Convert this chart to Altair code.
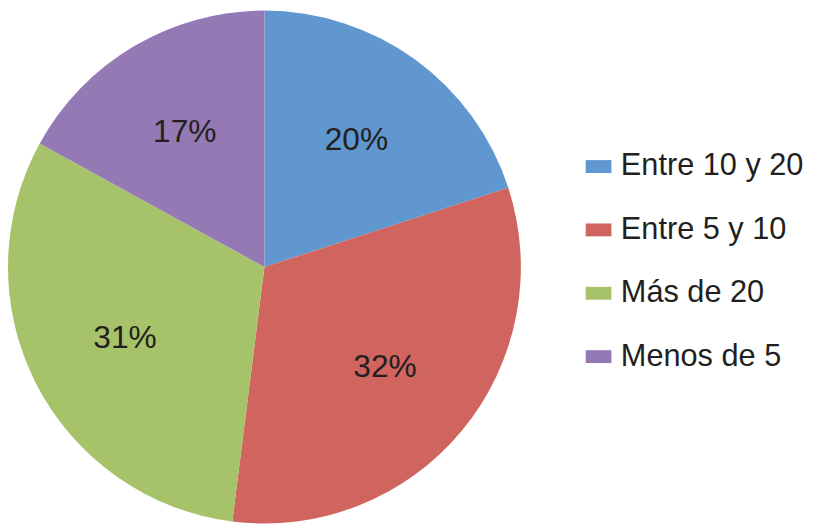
import altair as alt
import pandas as pd

categories = ["Entre 10 y 20", "Entre 5 y 10", "Más de 20", "Menos de 5"]
values = [20, 32, 31, 17]
labels = ["20%", "32%", "31%", "17%"]
colors = ["#5F97CE", "#D0645F", "#A6C36A", "#9479B5"]

df = pd.DataFrame({"cat": categories, "val": values, "label": labels, "idx": list(range(len(categories)))})

FONT = "Liberation Sans"

base = alt.Chart(df).encode(
    theta=alt.Theta("val:Q", stack=True),
    order=alt.Order("idx:Q"),
)

pie = base.mark_arc(radius=259, stroke=None).encode(
    x=alt.value(259),
    y=alt.value(259),
    color=alt.Color(
        "cat:N",
        scale=alt.Scale(domain=categories, range=colors),
        sort=categories,
        legend=alt.Legend(
            orient="none",
            legendX=581,
            legendY=142,
            title=None,
            symbolType="M-1,-0.5H1V0.5H-1Z",
            symbolSize=676,
            symbolStrokeWidth=0,
            symbolOpacity=1,
            labelFont=FONT,
            labelFontSize=31,
            labelColor="#231f20",
            labelOffset=7,
            rowPadding=32,
            labelLimit=400,
        ),
    ),
)

text = base.mark_text(radius=158, fontSize=32, font=FONT, color="#231f20").encode(
    x=alt.value(259),
    y=alt.value(259),
    text="label:N",
)

chart = (
    alt.layer(pie, text)
    .properties(width=805, height=524, autosize=alt.AutoSizeParams(type="none"), padding=0)
    .configure_view(stroke=None)
)

chart.save("out.html", embed_options={"renderer": "svg", "actions": False})
